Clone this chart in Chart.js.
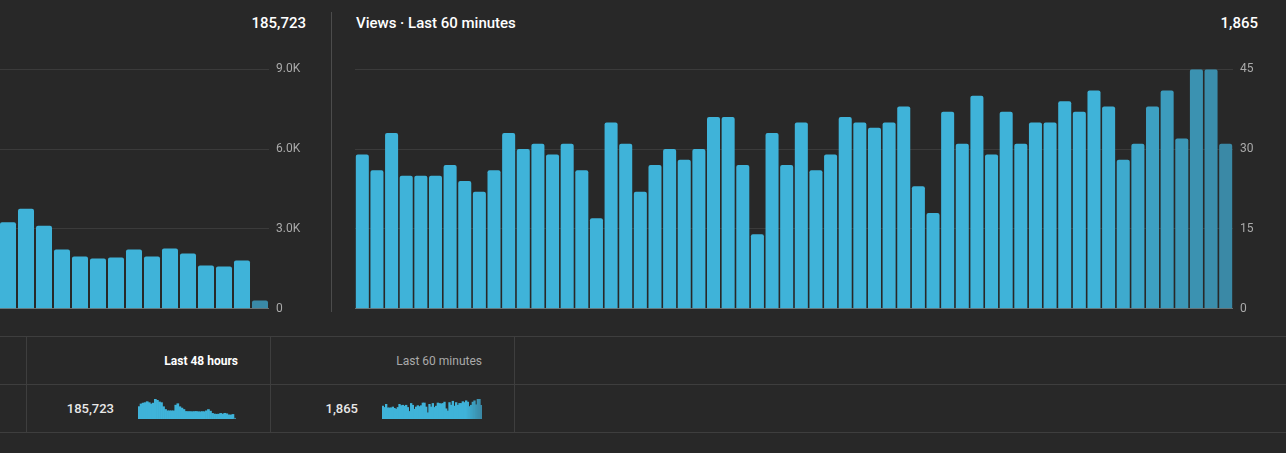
<!DOCTYPE html>
<html>
<head>
<meta charset="utf-8">
<script src="https://cdn.jsdelivr.net/npm/chart.js@4.4.1/dist/chart.umd.min.js"></script>
<style>
  body {
    margin: 0;
    width: 1286px;
    height: 453px;
    background: #282828;
    overflow: hidden;
    position: relative;
    font-family: Roboto, "Noto Sans", sans-serif;
  }
  canvas, .txt, .line { position: absolute; }
  .txt { white-space: nowrap; line-height: 20px; }
  .head { font-size: 15px; font-weight: 500; color: #ffffff; top: 13px; }
  .tab-head { font-size: 12px; top: 351px; }
  .tab-num { font-size: 13px; font-weight: 500; color: #e8e8e8; top: 399px; }
  .line { background: #3e3e3e; }
</style>
</head>
<body>
  <!-- top panels -->
  <div class="txt head" id="hoursTotal" style="right: 980px;"></div>
  <div class="txt head" style="left: 356px;">Views · Last 60 minutes</div>
  <div class="txt head" id="minutesTotal" style="right: 28px;"></div>
  <div class="line" style="left: 331px; top: 12px; width: 1px; height: 300px; background: #4c4c4c;"></div>

  <canvas id="hoursChart" width="904" height="268" style="left: -595px; top: 55px;"></canvas>
  <canvas id="minutesChart" width="918" height="268" style="left: 355px; top: 55px;"></canvas>

  <!-- summary table -->
  <div class="line" style="left: 0; top: 336px; width: 1286px; height: 1px;"></div>
  <div class="line" style="left: 0; top: 384px; width: 1286px; height: 1px;"></div>
  <div class="line" style="left: 0; top: 432px; width: 1286px; height: 1px;"></div>
  <div class="line" style="left: 26px; top: 336px; width: 1px; height: 97px;"></div>
  <div class="line" style="left: 270px; top: 336px; width: 1px; height: 97px;"></div>
  <div class="line" style="left: 514px; top: 336px; width: 1px; height: 97px;"></div>

  <div class="txt tab-head" style="right: 1048px; font-weight: 700; color: #ffffff;">Last 48 hours</div>
  <div class="txt tab-head" style="right: 804px; color: #aaaaaa;">Last 60 minutes</div>
  <div class="txt tab-num" id="hoursTotalSmall" style="right: 1172px;"></div>
  <div class="txt tab-num" id="minutesTotalSmall" style="right: 928px;"></div>

  <canvas id="hoursSpark" width="98" height="20" style="left: 138px; top: 399px;"></canvas>
  <canvas id="minutesSpark" width="100" height="20" style="left: 382px; top: 399px;"></canvas>

<script>
// Views per hour, last 48 hours (oldest first; only the last 15 are fully visible)
const hourViews = [
  4921, 5980, 6320, 6500, 6890, 6500, 5980, 6320, 7950, 7420, 6790, 6500,
  4880, 3780, 3250, 3250, 3250, 3250, 5500, 6080, 4880, 4350, 3780, 3000,
  2950, 2950, 2900, 2950, 3000, 2900, 2850, 2950, 2900, 3247, 3760, 3121,
  2231, 1968, 1893, 1930, 2231, 1968, 2269, 2081, 1630, 1592, 1818, 313
];
const hourLabels = hourViews.map((v, i) => i - 47 + "h");
const hourTicks = [0, 3000, 6000, 9000];

// Views per minute, last 60 minutes
const minuteViews = [
  29, 26, 33, 25, 25, 25, 27, 24, 22, 26,
  33, 30, 31, 29, 31, 26, 17, 35, 31, 22,
  27, 30, 28, 30, 36, 36, 27, 14, 33, 27,
  35, 26, 29, 36, 35, 34, 35, 38, 23, 18,
  37, 31, 40, 29, 37, 31, 35, 35, 39, 37,
  41, 38, 28, 31, 38, 41, 32, 45, 45, 31
];
const minuteLabels = minuteViews.map((v, i) => i - 59 + "m");
const minuteTicks = [0, 15, 30, 45];

const sum = (arr) => arr.reduce((a, b) => a + b, 0);
const fmt = (n) => n.toLocaleString("en-US");

document.getElementById("hoursTotal").textContent = fmt(sum(hourViews));
document.getElementById("hoursTotalSmall").textContent = fmt(sum(hourViews));
document.getElementById("minutesTotal").textContent = fmt(sum(minuteViews));
document.getElementById("minutesTotalSmall").textContent = fmt(sum(minuteViews));

Chart.defaults.font.family = "Roboto";
Chart.defaults.animation = false;

const BAR = [63, 179, 217];
const BAR_DARK = [58, 137, 166];
function mixColor(t) {
  t = Math.max(0, Math.min(1, t));
  const c = BAR.map((v, k) => Math.round(v + (BAR_DARK[k] - v) * t));
  return `rgb(${c[0]}, ${c[1]}, ${c[2]})`;
}
// current hour is still incomplete -> darker
const hourColor = (ctx) => mixColor(ctx.dataIndex === hourViews.length - 1 ? 1 : 0);
// the most recent minutes fade darker
const minuteColor = (ctx) => mixColor((ctx.dataIndex - 50) / 9);

function bigChart(id, labels, values, ticks, colorFn, tickFmt) {
  new Chart(document.getElementById(id), {
    type: "bar",
    data: {
      labels: labels,
      datasets: [{
        data: values,
        backgroundColor: colorFn,
        borderWidth: 0,
        borderRadius: 2,
        borderSkipped: "start",
        barPercentage: 0.89,
        categoryPercentage: 1,
      }],
    },
    options: {
      responsive: false,
      layout: { padding: { top: 10, bottom: 10, left: 0, right: 0 } },
      plugins: { legend: { display: false }, tooltip: { enabled: false } },
      scales: {
        x: { display: false },
        y: {
          position: "right",
          min: ticks[0],
          max: ticks[ticks.length - 1],
          afterBuildTicks: (scale) => { scale.ticks = ticks.map((v) => ({ value: v })); },
          afterFit: (scale) => { scale.width = 40; },
          z: 1,
          border: { display: false },
          grid: {
            drawTicks: false,
            lineWidth: 1,
            color: (ctx) => (ctx.tick && ctx.tick.value === 0 ? "#6e6e6e" : "rgba(255, 255, 255, 0.09)"),
          },
          ticks: {
            padding: 7,
            color: "#aaaaaa",
            font: { size: 12 },
            callback: tickFmt,
          },
        },
      },
    },
  });
}

bigChart("hoursChart", hourLabels, hourViews, hourTicks, hourColor,
  (v) => (v === 0 ? "0" : (v / 1000).toFixed(1) + "K"));
bigChart("minutesChart", minuteLabels, minuteViews, minuteTicks, minuteColor,
  (v) => String(v));

function spark(id, labels, values, colorFn) {
  new Chart(document.getElementById(id), {
    type: "bar",
    data: {
      labels: labels,
      datasets: [{
        data: values,
        backgroundColor: colorFn,
        borderWidth: 0,
        barPercentage: 1,
        categoryPercentage: 1,
      }],
    },
    options: {
      responsive: false,
      layout: { padding: 0 },
      plugins: { legend: { display: false }, tooltip: { enabled: false } },
      scales: {
        x: { display: false },
        y: { display: false, min: 0, max: Math.max(...values) },
      },
    },
  });
}

spark("hoursSpark", hourLabels, hourViews, hourColor);
spark("minutesSpark", minuteLabels, minuteViews, minuteColor);
</script>
</body>
</html>
